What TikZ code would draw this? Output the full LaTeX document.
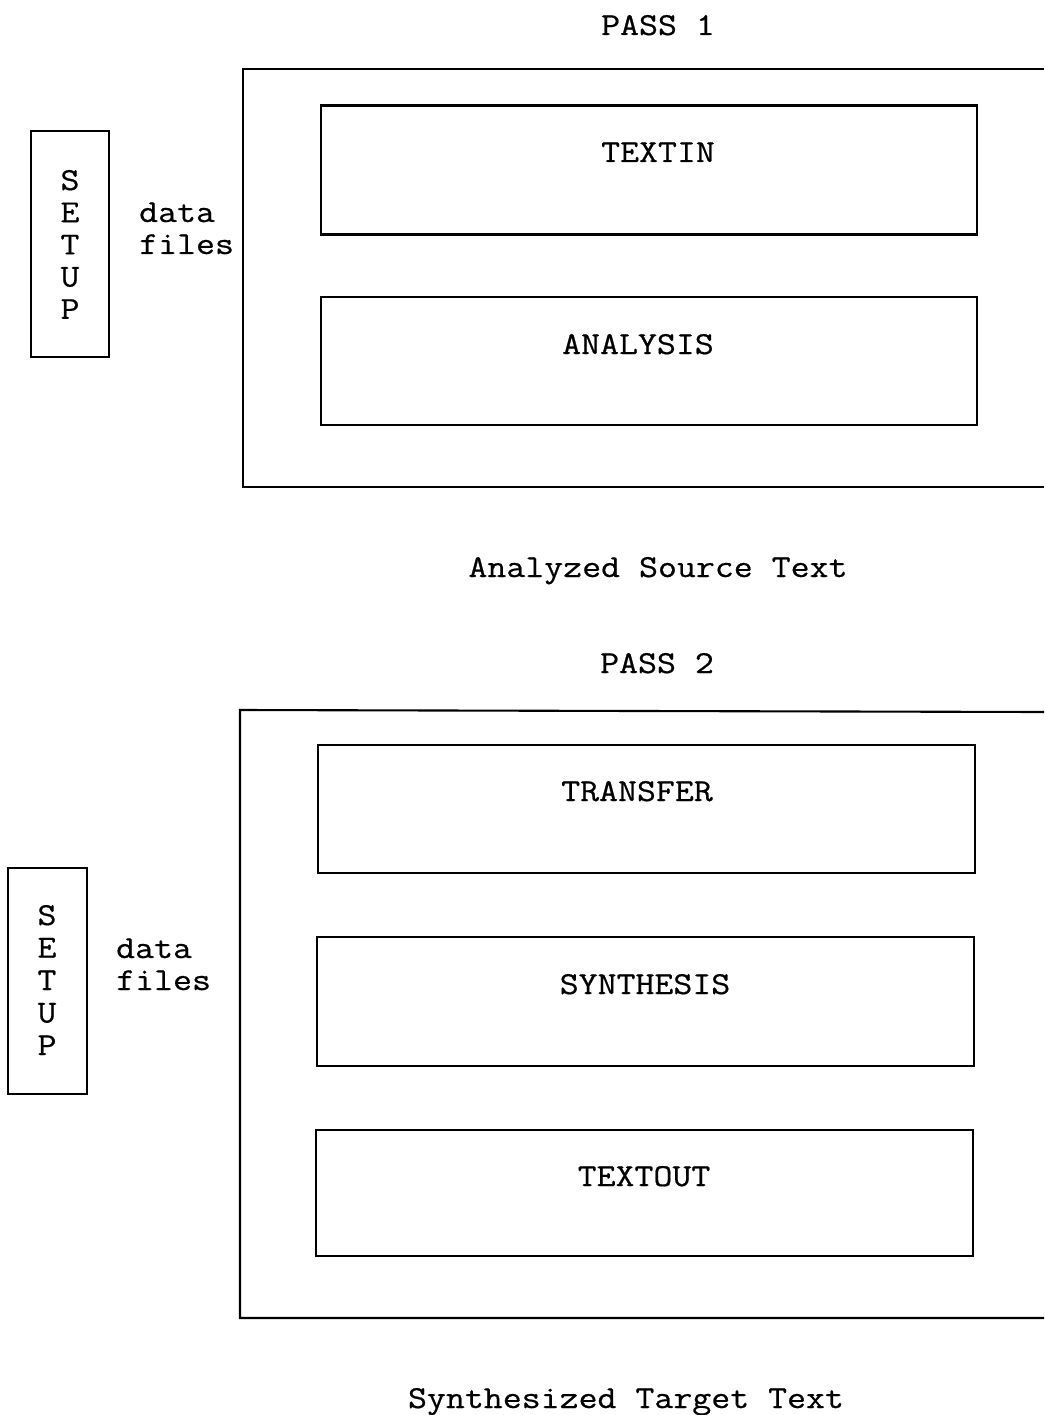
\documentclass[tikz,border=0pt]{standalone}
\usepackage{fontspec}
\setmonofont[FakeStretch=1.15, FakeBold=0.6]{Latin Modern Mono}
\begin{document}
\begin{tikzpicture}[x=1pt,y=-1pt,
  ink/.style={line width=2.1pt, black},
  stage/.style={ink, draw, rectangle, inner sep=0pt},
  lbl/.style={font=\ttfamily\fontsize{32}{32}\selectfont, anchor=base, inner sep=0pt},
  lbll/.style={lbl, anchor=base west}]
\useasboundingbox (0,0) rectangle (1044,1415);

% ---------- Pass 1 ----------
\node[lbl] (pass1) at (658,35) {PASS 1};
\draw[ink] (1044,69) -- (243,69) -- (243,487) -- (1044,487);

\node[stage, minimum width=656, minimum height=129] (textin) at (649,170) {};
\node[lbl] (textinL) at (658,162) {TEXTIN};
\node[stage, minimum width=656, minimum height=128] (analysis) at (649,361) {};
\node[lbl] (analysisL) at (638,354) {ANALYSIS};

\node[stage, minimum width=78, minimum height=226] (setup1) at (70,244) {};
\foreach \ch [count=\i from 0] in {S,E,T,U,P}
  \node[lbl] (s1\i) at (70,190+32.2*\i) {\ch};
\node[lbll] (df1a) at (139,222) {data};
\node[lbll] (df1b) at (139,254) {files};

\node[lbl] (src) at (658,577) {Analyzed Source Text};

% ---------- Pass 2 ----------
\node[lbl] (pass2) at (657,673) {PASS 2};
\draw[ink] (1044,712) -- (240,710) -- (240,1318) -- (1044,1318);

\node[stage, minimum width=657, minimum height=128] (transfer) at (646.5,809) {};
\node[lbl] (transferL) at (637,801) {TRANSFER};
\node[stage, minimum width=657, minimum height=129] (synthesis) at (645.5,1001.5) {};
\node[lbl] (synthesisL) at (645,994) {SYNTHESIS};
\node[stage, minimum width=657, minimum height=126] (textout) at (644.5,1193) {};
\node[lbl] (textoutL) at (644,1186) {TEXTOUT};

\node[stage, minimum width=79, minimum height=226] (setup2) at (47.5,981) {};
\foreach \ch [count=\i from 0] in {S,E,T,U,P}
  \node[lbl] (s2\i) at (47,925+32.5*\i) {\ch};
\node[lbll] (df2a) at (116,958) {data};
\node[lbll] (df2b) at (116,990) {files};

\node[lbl] (tgt) at (626,1408) {Synthesized Target Text};
\end{tikzpicture}
\end{document}
